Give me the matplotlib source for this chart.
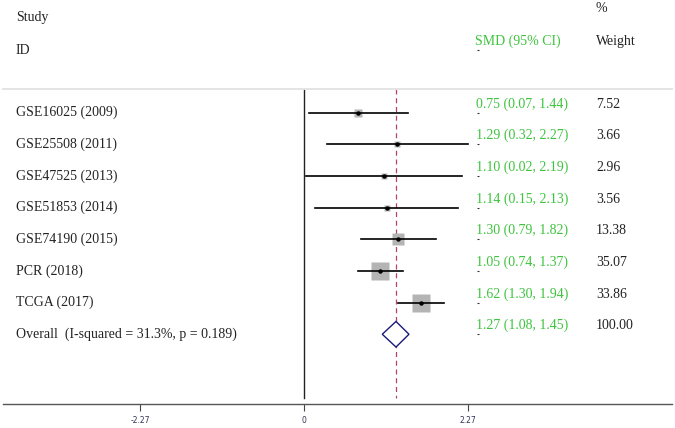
import matplotlib
matplotlib.use("Agg")
import matplotlib.pyplot as plt
import matplotlib.transforms as mtransforms
import numpy as np

studies = ["GSE16025 (2009)", "GSE25508 (2011)", "GSE47525 (2013)", "GSE51853 (2014)",
           "GSE74190 (2015)", "PCR (2018)", "TCGA (2017)"]
smd = [0.75, 1.29, 1.10, 1.14, 1.30, 1.05, 1.62]
lo = [0.07, 0.32, 0.02, 0.15, 0.79, 0.74, 1.30]
hi = [1.44, 2.27, 2.19, 2.13, 1.82, 1.37, 1.94]
weights = [7.52, 3.66, 2.96, 3.56, 13.38, 35.07, 33.86]
overall_label = "Overall  (I-squared = 31.3%, p = 0.189)"
overall = 1.27
overall_lo = 1.08
overall_hi = 1.45
overall_weight = 100.00
xticks = [-2.27, 0, 2.27]
xticklabels = ["-2.27", "0", "2.27"]

W, H, DPI = 675, 428, 100
fig = plt.figure(figsize=(W / DPI, H / DPI), dpi=DPI)

# axes geometry in pixels
ax_left, ax_right = 3, 672
ax_top, ax_bot = 89, 403.7
ax = fig.add_axes([ax_left / W, 1 - ax_bot / H, (ax_right - ax_left) / W, (ax_bot - ax_top) / H])

x0_px, ppu = 304.3, 72.2
ax.set_xlim((ax_left - x0_px) / ppu, (ax_right - x0_px) / ppu)
row0_px, rowgap = 112.7, 31.65
ax.set_ylim((ax_bot - row0_px) / rowgap, (ax_top - row0_px) / rowgap)

n = len(studies)
ys = np.arange(n)
y_over = n

serif = "Liberation Serif"
green = "#3cc43c"
dark = "#222222"

# reference lines
line_bottom = (397.7 - row0_px) / rowgap
ytop = ax.get_ylim()[1]
ax.plot([0, 0], [ytop, line_bottom], color=dark, lw=1.0, zorder=1)
ax.plot([overall, overall], [ytop, line_bottom], color="#b5426a", lw=0.9,
        dashes=(4, 3), zorder=1)

# study rows
px2pt = 72 / DPI
for i in range(n):
    side_px = 3.16 * np.sqrt(weights[i])
    ax.plot([smd[i]], [ys[i]], marker="s", ms=side_px * px2pt, color="#b4b4b4",
            mec="none", zorder=2, linestyle="none")
    ax.plot([lo[i], hi[i]], [ys[i], ys[i]], color="black", lw=1.2, zorder=3)
    ax.plot([smd[i]], [ys[i]], marker="o", ms=2.2, color="black", zorder=4,
            linestyle="none")

# overall diamond
dh = 12.8 / rowgap
ax.fill([overall_lo, overall, overall_hi, overall, overall_lo],
        [y_over, y_over - dh, y_over, y_over + dh, y_over],
        facecolor="white", edgecolor="#1a1a7a", lw=1.0, zorder=3)

# axes styling
for s in ["left", "right"]:
    ax.spines[s].set_visible(False)
ax.spines["top"].set_color("#e4e4e4")
ax.spines["top"].set_linewidth(1.4)
ax.spines["bottom"].set_color("#555555")
ax.spines["bottom"].set_linewidth(1.0)
ax.set_yticks([])
ax.set_xticks(xticks)
ax.set_xticklabels(xticklabels, fontsize=5.5, color="#333355", family="DejaVu Sans")
ax.tick_params(axis="x", length=5, width=0.8, color="#444444", pad=4)

# text columns
tr = mtransforms.blended_transform_factory(fig.transFigure, ax.transData)
for i in range(n):
    ax.text(16 / W, ys[i], studies[i], transform=tr, fontsize=10, family=serif,
            va="center", ha="left", color=dark)
    ax.text(476 / W, ys[i] - 0.06, f"{smd[i]:.2f} ({lo[i]:.2f}, {hi[i]:.2f})",
            transform=tr, fontsize=10, family=serif, va="bottom", ha="left", color=green)
    ax.text(596 / W, ys[i] - 0.06, f"{weights[i]:.2f}", transform=tr, fontsize=10,
            family=serif, va="bottom", ha="left", color=dark)
    ax.plot([477.5 / W], [ys[i]], transform=tr, marker="_", ms=2, mew=0.8,
            color="#333333", clip_on=False)

ax.text(16 / W, y_over, overall_label, transform=tr, fontsize=10, family=serif,
        va="center", ha="left", color=dark)
ax.text(476 / W, y_over - 0.06, f"{overall:.2f} ({overall_lo:.2f}, {overall_hi:.2f})",
        transform=tr, fontsize=10, family=serif, va="bottom", ha="left", color=green)
ax.text(596 / W, y_over - 0.06, f"{overall_weight:.2f}", transform=tr, fontsize=10,
        family=serif, va="bottom", ha="left", color=dark)
ax.plot([477.5 / W], [y_over], transform=tr, marker="_", ms=2, mew=0.8,
        color="#333333", clip_on=False)

# headers
fig.text(16 / W, 1 - 17 / H, "Study", fontsize=10, family=serif, va="center", color=dark)
fig.text(16 / W, 1 - 50 / H, "ID", fontsize=10, family=serif, va="center", color=dark)
fig.text(475 / W, 1 - 41 / H, "SMD (95% CI)", fontsize=10, family=serif, va="center", color=green)
fig.text(596 / W, 1 - 9 / H, "%", fontsize=10, family=serif, va="center", color=dark)
fig.text(596 / W, 1 - 41 / H, "Weight", fontsize=10, family=serif, va="center", color=dark)
ax.plot([477.5 / W], [(50 - row0_px) / rowgap], transform=tr, marker="_", ms=2, mew=0.8,
        color="#333333", clip_on=False)

fig.savefig("out.png", dpi=DPI)
